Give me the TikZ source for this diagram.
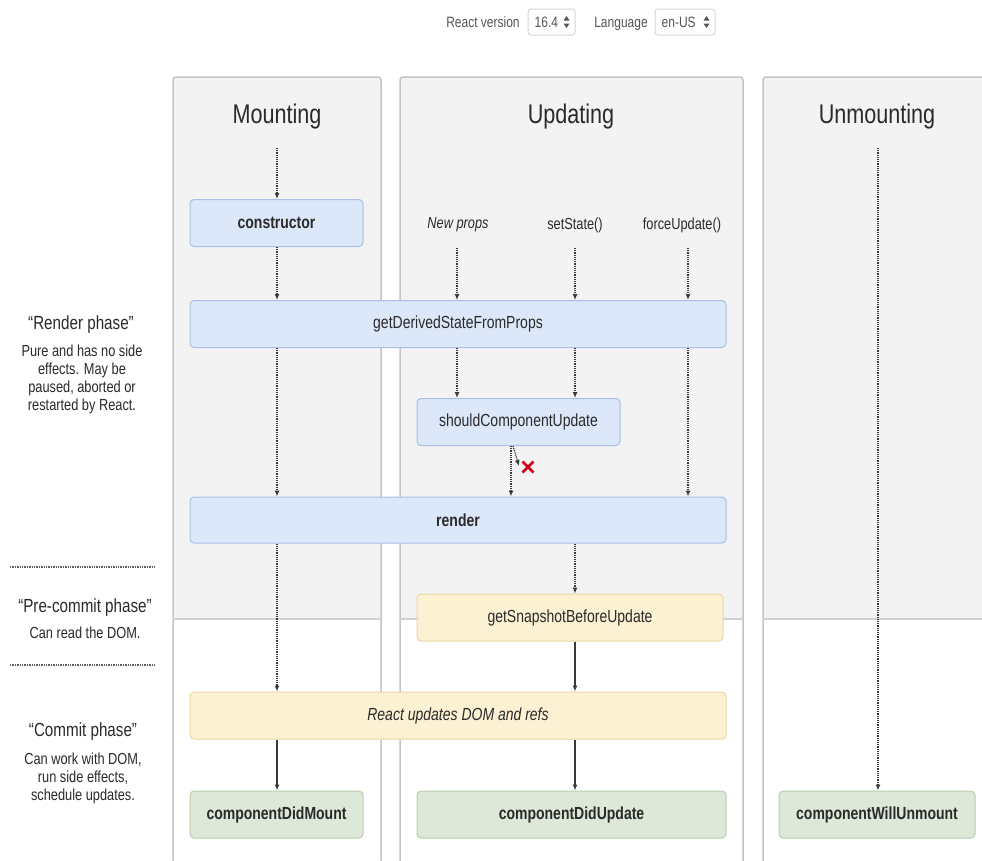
\documentclass[tikz,border=0pt]{standalone}
\usepackage{fontspec}
\setmainfont{Liberation Sans}[FakeStretch=0.8]
\usetikzlibrary{arrows.meta}
\definecolor{panelbg}{HTML}{F3F3F3}
\definecolor{panelline}{HTML}{C4C4C4}
\definecolor{splitline}{HTML}{D2D2D2}
\definecolor{bluefill}{HTML}{DCE8FA}
\definecolor{blueline}{HTML}{A9C0E4}
\definecolor{yelfill}{HTML}{FDF1D4}
\definecolor{yelline}{HTML}{EBD7A4}
\definecolor{grnfill}{HTML}{DDE8D8}
\definecolor{grnline}{HTML}{BACDB1}
\definecolor{txt}{HTML}{2A2A2A}
\definecolor{arr}{HTML}{3A3A3A}
\definecolor{xred}{HTML}{D0021B}
\definecolor{ctlline}{HTML}{D6D6D6}
\newcommand\lcpanel[2]{%
  \fill[panelbg] (#1,619) [rounded corners=3pt] -- (#1,77) -- (#2,77) [sharp corners] -- (#2,619) -- cycle;
  \draw[panelline, line width=1.5pt] (#1,880) [rounded corners=3pt] -- (#1,77) -- (#2,77) [sharp corners] -- (#2,880);
  \draw[splitline, line width=1.2pt] (#1,619) -- (#2,619);}
\tikzset{
  lcbox/.style={rounded corners=4pt, line width=1pt, minimum height=47pt, inner sep=0pt,
    font=\fontsize{17.5}{20}\selectfont, text=txt},
  bluebox/.style={lcbox, fill=bluefill, draw=blueline},
  yelbox/.style={lcbox, fill=yelfill, draw=yelline},
  grnbox/.style={lcbox, fill=grnfill, draw=grnline},
  coltitle/.style={font=\fontsize{27}{30}\selectfont, text=txt, inner sep=0pt},
  evlabel/.style={font=\fontsize{16}{18}\selectfont, text=txt, inner sep=1pt},
  phasetitle/.style={font=\fontsize{19}{21}\selectfont, text=txt, inner sep=0pt},
  phasebody/.style={font=\fontsize{16}{18}\selectfont, text=txt, align=center, inner sep=0pt},
  hdrtext/.style={font=\fontsize{15}{17}\selectfont, text=txt!80, inner sep=0pt},
  hdrbox/.style={draw=ctlline, rounded corners=3pt, line width=1pt, minimum height=26pt, inner sep=0pt},
  darr/.style={densely dotted, line width=1.2pt, draw=arr, -{Latex[length=6pt,width=5pt]}},
  sarr/.style={line width=1.4pt, draw=arr, -{Latex[length=6pt,width=5pt]}},
  sepline/.style={densely dotted, line width=1.4pt, draw=arr!80},
}
\begin{document}
\begin{tikzpicture}[x=1pt,y=-1pt]
\useasboundingbox (0,0) rectangle (982,860);
\clip (0,0) rectangle (982,860);
\fill[white] (0,0) rectangle (982,860);

% header
\node[hdrtext, anchor=base] (rv) at (483,27) {React version};
\node[hdrbox, minimum width=47pt] (ver) at (551.5,22) {};
\node[hdrtext, anchor=base west] (vertxt) at ([xshift=7pt]ver.west |- rv.base) {16.4};
\node[hdrtext, anchor=base] (lang) at (621,27) {Language};
\node[hdrbox, minimum width=60pt] (lg) at (685,22) {};
\node[hdrtext, anchor=base west] (lgtxt) at ([xshift=7pt]lg.west |- rv.base) {en-US};
\foreach \b in {ver,lg}{
  \fill[txt!80] ([xshift=-9pt]\b.east) ++(-3,-1.5) -- ++(6,0) -- ++(-3,-4.5) -- cycle;
  \fill[txt!80] ([xshift=-9pt]\b.east) ++(-3,1.5) -- ++(6,0) -- ++(-3,4.5) -- cycle;
}

% panels
\lcpanel{173}{381}
\lcpanel{400}{743}
\lcpanel{763}{1000}

% left phase labels
\node[phasetitle] (rptitle) at (81,325) {“Render phase”};
\node[phasebody] (rpbody) at (82,379) {Pure and has no side\\effects. May be\\paused, aborted or\\restarted by React.};
\coordinate (sepa1) at (10,567);
\coordinate (sepa2) at (155,567);
\draw[sepline] (sepa1) -- (sepa2);
\node[phasetitle] (pctitle) at (85,608) {“Pre-commit phase”};
\node[phasebody] (pcbody) at (85,633) {Can read the DOM.};
\coordinate (sepb1) at (10,665);
\coordinate (sepb2) at (155,665);
\draw[sepline] (sepb1) -- (sepb2);
\node[phasetitle] (cptitle) at (83,732) {“Commit phase”};
\node[phasebody] (cpbody) at (83,778) {Can work with DOM,\\run side effects,\\schedule updates.};

% column titles
\node[coltitle] (mtitle) at (277,117) {Mounting};
\node[coltitle] (utitle) at (571,117) {Updating};
\node[coltitle] (untitle) at (877,117) {Unmounting};

% event labels
\node[evlabel] (newprops) at (458,225) {\itshape New props};
\node[evlabel] (setstate) at (575,225) {setState()};
\node[evlabel] (forceupd) at (682,225) {forceUpdate()};

% boxes
\node[bluebox, minimum width=173pt] (constructor) at (276.5,223) {\bfseries constructor};
\node[bluebox, minimum width=536pt] (gdsfp) at (458,324) {getDerivedStateFromProps};
\node[bluebox, minimum width=203pt] (scu) at (518.5,422) {shouldComponentUpdate};
\node[bluebox, minimum width=536pt, minimum height=46pt] (render) at (458,520) {\bfseries render};
\node[yelbox, minimum width=306pt] (gsbu) at (570,617.5) {getSnapshotBeforeUpdate};
\node[yelbox, minimum width=536pt] (rdom) at (458,715.5) {\itshape React updates DOM and refs};
\node[grnbox, minimum width=173pt] (cdm) at (276.5,814.5) {\bfseries componentDidMount};
\node[grnbox, minimum width=309pt] (cdu) at (571.5,814.5) {\bfseries componentDidUpdate};
\node[grnbox, minimum width=196pt] (cwu) at (877,814.5) {\bfseries componentWillUnmount};

% column coordinates
\coordinate (m0) at (277,148);
\coordinate (np0) at (457,248);
\coordinate (ss0) at (575,248);
\coordinate (fu0) at (688,248);
\coordinate (cx) at (511,0);
\coordinate (rej) at (519,466);
\coordinate (xmark) at (528,467);
\coordinate (u0) at (878,148);

% mounting arrows
\draw[darr] (m0) -- (m0 |- constructor.north);
\draw[darr] (m0 |- constructor.south) -- (m0 |- gdsfp.north);
\draw[darr] (m0 |- gdsfp.south) -- (m0 |- render.north);
\draw[darr] (m0 |- render.south) -- (m0 |- rdom.north);
\draw[sarr] (m0 |- rdom.south) -- (m0 |- cdm.north);

% updating arrows
\draw[darr] (np0) -- (np0 |- gdsfp.north);
\draw[darr] (ss0) -- (ss0 |- gdsfp.north);
\draw[darr] (fu0) -- (fu0 |- gdsfp.north);
\draw[darr] (np0 |- gdsfp.south) -- (np0 |- scu.north);
\draw[darr] (ss0 |- gdsfp.south) -- (ss0 |- scu.north);
\draw[darr] (fu0 |- gdsfp.south) -- (fu0 |- render.north);
\draw[darr] (cx |- scu.south) -- (cx |- render.north);
\draw[darr] ([xshift=2pt]cx |- scu.south) -- (rej);
\draw[xred, line width=2.6pt] (xmark) ++(-5.5,-5.5) -- ++(11,11);
\draw[xred, line width=2.6pt] (xmark) ++(5.5,-5.5) -- ++(-11,11);
\draw[darr] (ss0 |- render.south) -- (ss0 |- gsbu.north);
\draw[sarr] (ss0 |- gsbu.south) -- (ss0 |- rdom.north);
\draw[sarr] (ss0 |- rdom.south) -- (ss0 |- cdu.north);

% unmounting arrow
\draw[darr] (u0) -- (u0 |- cwu.north);
\end{tikzpicture}
\end{document}
